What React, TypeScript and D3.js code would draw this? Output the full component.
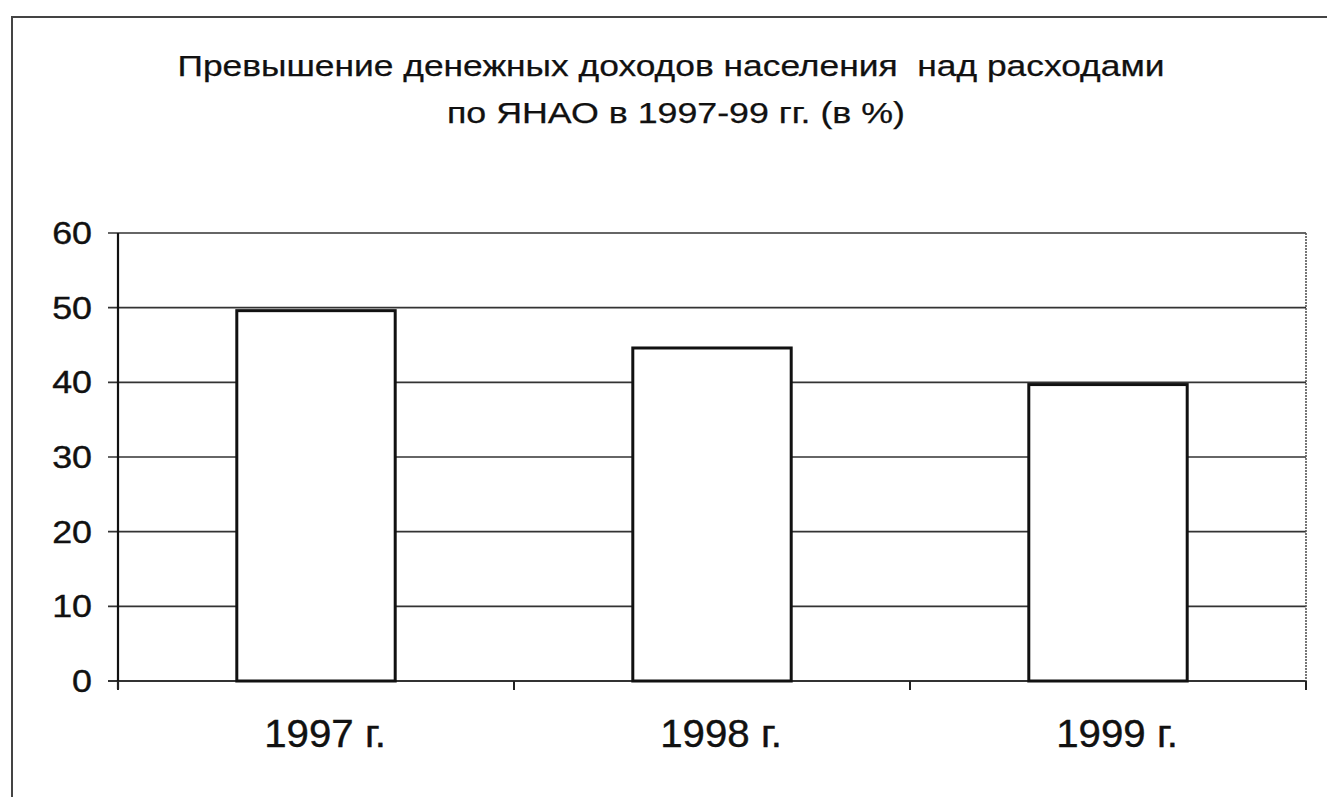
import React from "react";
import * as d3 from "d3";

const categories: string[] = ["1997 г.", "1998 г.", "1999 г."];
const values: number[] = [49.6, 44.6, 39.7];
const yTicks: number[] = [0, 10, 20, 30, 40, 50, 60];
const titleLines: string[] = [
  "Превышение денежных доходов населения  над расходами",
  "по ЯНАО в 1997-99 гг. (в %)",
];

const W = 1327;
const H = 797;
const plot = { left: 118, right: 1306, top: 233, bottom: 681 };
const FONT = "Arial, 'Liberation Sans', Helvetica, sans-serif";
const titleLayout = [
  { cx: 671, baseline: 76, len: 987 },
  { cx: 676, baseline: 123, len: 458 },
];

export default function App() {
  const x = d3
    .scaleBand<string>()
    .domain(categories)
    .range([plot.left, plot.right])
    .paddingInner(0.6)
    .paddingOuter(0.3);
  const y = d3.scaleLinear().domain([0, 60]).range([plot.bottom, plot.top]);
  const step = x.step();
  const boundaries = d3.range(categories.length + 1).map((i) => plot.left + i * step);

  return (
    <svg
      width={W}
      height={H}
      style={{ position: "absolute", left: 0, top: 0, background: "#fff" }}
      fontFamily={FONT}
    >
      <rect x={0} y={0} width={W} height={H} fill="#fff" />
      {/* outer frame */}
      <rect x={12} y={17} width={W + 40} height={H + 40} fill="none" stroke="#444" strokeWidth={2} />

      {/* title */}
      {titleLines.map((t, i) => (
        <text
          key={i}
          x={titleLayout[i].cx}
          y={titleLayout[i].baseline}
          textAnchor="middle"
          fontSize={29}
          textLength={titleLayout[i].len}
          lengthAdjust="spacingAndGlyphs"
          fill="#111"
          stroke="#111"
          strokeWidth={0.25}
          style={{ whiteSpace: "pre" }}
        >
          {t}
        </text>
      ))}

      {/* gridlines */}
      {yTicks.map((t) => (
        <line
          key={t}
          x1={plot.left - 10}
          x2={plot.right}
          y1={y(t)}
          y2={y(t)}
          stroke="#333"
          strokeWidth={t === 0 ? 2 : 1.6}
        />
      ))}
      {/* right border of plot */}
      <line x1={plot.right} x2={plot.right} y1={plot.top} y2={plot.bottom + 8} stroke="#555" strokeWidth={1.6} strokeDasharray="2 1" />
      {/* y axis */}
      <line x1={plot.left} x2={plot.left} y1={plot.top} y2={plot.bottom + 8} stroke="#111" strokeWidth={2.2} />
      {/* x ticks */}
      {boundaries.map((bx, i) => (
        <line key={i} x1={bx} x2={bx} y1={plot.bottom} y2={plot.bottom + 9} stroke="#222" strokeWidth={2} />
      ))}

      {/* bars */}
      {categories.map((c, i) => (
        <rect
          key={c}
          x={x(c)!}
          y={y(values[i])}
          width={x.bandwidth()}
          height={y(0) - y(values[i])}
          fill="#fff"
          stroke="#111"
          strokeWidth={3}
        />
      ))}

      {/* y labels */}
      {yTicks.map((t) => (
        <text
          key={t}
          transform={`translate(92, ${y(t) + 11}) scale(1.12, 1)`}
          textAnchor="end"
          fontSize={32}
          fill="#111"
          stroke="#111"
          strokeWidth={0.4}
        >
          {t}
        </text>
      ))}

      {/* x labels */}
      {categories.map((c) => (
        <text
          key={c}
          transform={`translate(${x(c)! + x.bandwidth() / 2 + 9}, 747) scale(1.06, 1)`}
          textAnchor="middle"
          fontSize={38}
          fill="#111"
          stroke="#111"
          strokeWidth={0.4}
        >
          {c}
        </text>
      ))}
    </svg>
  );
}
